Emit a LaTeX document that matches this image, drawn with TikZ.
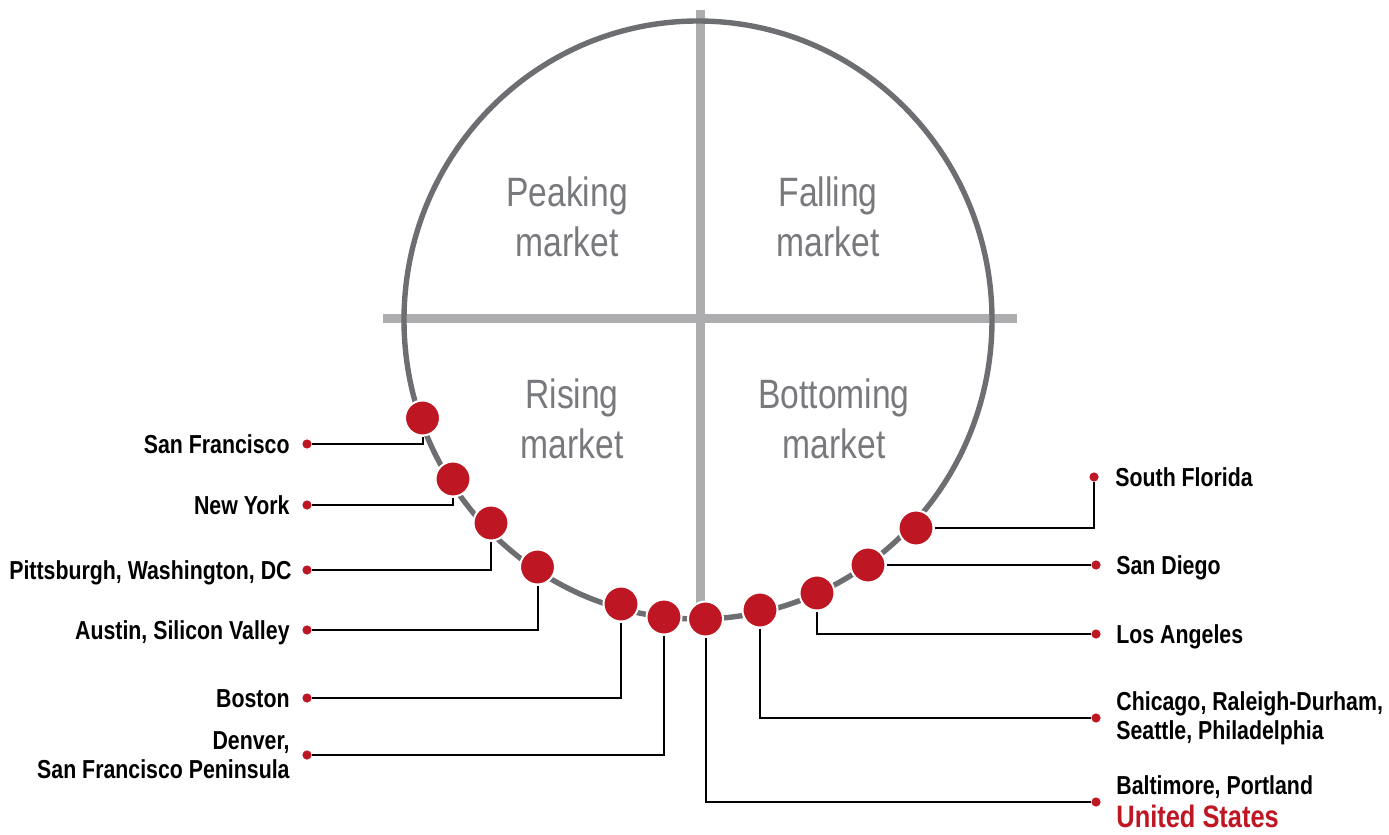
\documentclass[tikz,border=0pt]{standalone}
\usepackage{fontspec}
\usepackage{xcolor}
\usetikzlibrary{positioning}
\newfontfamily\narrowsans{Liberation Sans}[FakeStretch=0.82]
\definecolor{cyclered}{RGB}{190,22,34}
\definecolor{cyclegray}{RGB}{109,110,113}
\definecolor{axisgray}{RGB}{173,173,175}
\definecolor{phasegray}{RGB}{120,121,124}

\begin{document}
\begin{tikzpicture}[x=0.5pt,y=-0.5pt,
    citydot/.style={circle,fill=cyclered,draw=white,line width=1pt,minimum size=17.5pt,inner sep=0pt},
    pindot/.style={circle,fill=cyclered,minimum size=4.6pt,inner sep=0pt},
    leader/.style={draw=black,line width=1pt},
    phase/.style={font=\narrowsans\fontsize{20.5}{25}\selectfont,text=phasegray,align=center,inner sep=0pt},
    citylabel/.style={font=\narrowsans\bfseries\fontsize{13}{14.5}\selectfont,inner sep=0pt},
    oneline/.style={text height=9.3pt,text depth=0pt}]
    \useasboundingbox (0,0) rectangle (1389,835);

    % cross and cycle
    \draw[axisgray,line width=4.5pt] (700,10) -- (700,605);
    \draw[axisgray,line width=4.3pt] (383,318.5) -- (1017,318.5);
    \draw[cyclegray,line width=2.7pt] (698,320) ellipse [x radius=294, y radius=299];

    \node[phase] (peak) at (567,217) {Peaking\\market};
    \node[phase] (fall) at (828,217) {Falling\\market};
    \node[phase] (rise) at (572,419) {Rising\\market};
    \node[phase] (bottom) at (834,419) {Bottoming\\market};

    % markets on the cycle
    \node[citydot] (sf) at (422.5,418) {};
    \node[citydot] (ny) at (453,479) {};
    \node[citydot] (pitt) at (491,523) {};
    \node[citydot] (aus) at (537.5,567) {};
    \node[citydot] (bos) at (621,604) {};
    \node[citydot] (den) at (664,617) {};
    \node[citydot] (bal) at (705.5,619) {};
    \node[citydot] (chi) at (760,610) {};
    \node[citydot] (la) at (817,593) {};
    \node[citydot] (sd) at (868,565) {};
    \node[citydot] (sfl) at (916,528) {};

    % left labels
    \node[pindot] (sfpt) at (307,444) {};
    \node[pindot] (nypt) at (307,505) {};
    \node[pindot] (pittpt) at (307,570) {};
    \node[pindot] (auspt) at (307,630) {};
    \node[pindot] (bospt) at (307,698) {};
    \node[pindot] (denpt) at (307,755) {};
    \node[citylabel,oneline,left=6pt of sfpt] (sflbl) {San Francisco};
    \node[citylabel,oneline,left=6pt of nypt] (nylbl) {New York};
    \node[citylabel,oneline,left=5pt of pittpt] (pittlbl) {Pittsburgh, Washington, DC};
    \node[citylabel,oneline,left=6pt of auspt] (auslbl) {Austin, Silicon Valley};
    \node[citylabel,oneline,left=6pt of bospt] (boslbl) {Boston};
    \node[citylabel,align=right,left=6pt of denpt] (denlbl) {Denver,\\San Francisco Peninsula};

    % right labels
    \node[pindot] (sflpt) at (1094,477) {};
    \node[pindot] (sdpt) at (1096,565) {};
    \node[pindot] (lapt) at (1096,634) {};
    \node[pindot] (chipt) at (1096,718) {};
    \node[pindot] (balpt) at (1096,802) {};
    \node[citylabel,oneline,right=8pt of sflpt] (sfllbl) {South Florida};
    \node[citylabel,oneline,right=7.5pt of sdpt] (sdlbl) {San Diego};
    \node[citylabel,oneline,right=7.5pt of lapt] (lalbl) {Los Angeles};
    \node[citylabel,align=left,right=7.5pt of chipt] (chilbl) {Chicago, Raleigh-Durham,\\Seattle, Philadelphia};
    \node[citylabel,align=left,right=7.5pt of balpt] (ballbl) {Baltimore, Portland\\[2pt]{\fontsize{15.5}{17}\selectfont\color{cyclered}United States}};

    % leaders
    \draw[leader] (sf.south) |- (sfpt);
    \draw[leader] (ny.south) |- (nypt);
    \draw[leader] (pitt.south) |- (pittpt);
    \draw[leader] (aus.south) |- (auspt);
    \draw[leader] (bos.south) |- (bospt);
    \draw[leader] (den.south) |- (denpt);
    \draw[leader] (bal.south) |- (balpt);
    \draw[leader] (chi.south) |- (chipt);
    \draw[leader] (la.south) |- (lapt);
    \draw[leader] (sd.east) -- (sdpt);
    \draw[leader] (sfl.east) -| (sflpt);
\end{tikzpicture}
\end{document}
